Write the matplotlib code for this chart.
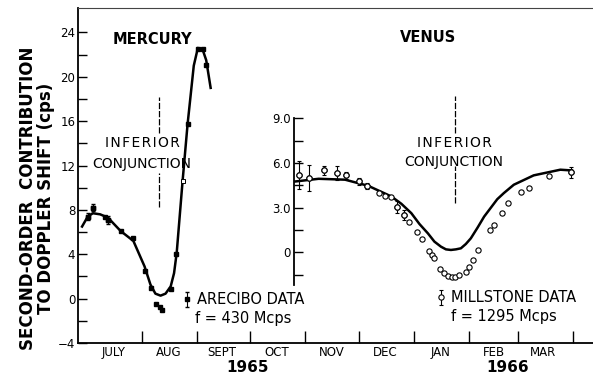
import matplotlib.pyplot as plt

# day numbers counted from 1 July 1965
month_starts = [31, 62, 92, 123, 153, 184, 215, 243, 274]
month_mids = [15, 46, 76, 107, 138, 168, 199, 229, 257]
month_names = ['JULY', 'AUG', 'SEPT', 'OCT', 'NOV', 'DEC', 'JAN', 'FEB', 'MAR']

# Mercury (Arecibo, 430 Mcps), cps
merc_day = [0.5, 3.4, 10.0, 11.9, 19.0, 25.9, 32.5, 36.3, 39.2, 41.1, 42.4,
            47.6, 50.4, 56.7, 62.5, 65.3, 67.2]
merc_val = [7.4, 8.2, 7.4, 7.1, 6.1, 5.5, 2.5, 1.0, -0.45, -0.75, -1.0,
            0.9, 4.0, 15.7, 22.5, 22.5, 21.1]
merc_open_day = [53.9]
merc_open_val = [10.6]
merc_err_day = [0.5, 3.4, 11.9]
merc_err_val = [7.4, 8.2, 7.1]
merc_err = [0.3, 0.3, 0.35]

merc_curve_day = [-2.7, 0.5, 3.4, 7.5, 11.9, 19.0, 26.2, 32.5, 35.8, 38.6,
                  41.5, 44.3, 47.2, 49.1, 50.6, 53.9, 56.7, 60.2, 62.5,
                  65.3, 67.2, 69.7]
merc_curve_val = [6.5, 7.4, 7.7, 7.6, 7.3, 6.1, 5.2, 2.9, 1.27, 0.45,
                  0.27, 0.45, 1.1, 2.3, 4.15, 10.6, 15.7, 21.0, 22.6,
                  22.4, 21.5, 19.0]

# Venus (Millstone, 1295 Mcps), cps
ven_day = [119.3, 124.9, 133.3, 140.7, 145.9, 153.4, 157.9, 164.6, 167.7,
           171.5, 174.6, 178.6, 181.4, 185.8, 188.8, 192.5, 194.4, 195.3,
           199.1, 201.3, 203.2, 205.6, 207.3, 209.7, 213.4, 215.3, 217.5,
           220.5, 227.0, 229.3, 233.9, 237.3, 244.7, 248.8, 260.0, 272.5]
ven_val = [5.2, 5.0, 5.5, 5.33, 5.17, 4.76, 4.47, 4.0, 3.8,
           3.7, 3.03, 2.5, 2.07, 1.35, 0.88, 0.11, -0.18, -0.4,
           -1.12, -1.4, -1.57, -1.64, -1.64, -1.53, -1.3, -0.97, -0.52,
           0.16, 1.5, 1.84, 2.63, 3.3, 4.02, 4.31, 5.15, 5.37]
ven_err_day = [119.3, 124.9, 133.3, 140.7, 145.9, 153.4, 157.9, 174.6, 178.6, 272.5]
ven_err_val = [5.2, 5.0, 5.5, 5.33, 5.17, 4.76, 4.47, 3.03, 2.5, 5.37]
ven_err = [0.95, 0.85, 0.3, 0.45, 0.25, 0.22, 0.22, 0.4, 0.35, 0.38]

ven_curve_day = [117.4, 130.5, 145.4, 158.4, 171.5, 177.1, 182.7, 187.3, 192.0,
                 195.7, 199.4, 202.2, 205.0, 207.8, 210.6, 213.4, 216.2, 220.0,
                 223.7, 231.1, 234.8, 240.4, 251.6, 266.6, 273.1]
ven_curve_val = [4.76, 4.94, 4.88, 4.47, 3.75, 3.26, 2.63, 1.9, 1.28,
                 0.72, 0.38, 0.2, 0.16, 0.2, 0.27, 0.56, 0.94, 1.66,
                 2.4, 3.57, 3.98, 4.54, 5.17, 5.55, 5.5]

merc_conj = 40.5
ven_conj = 207.3

plt.rcParams['font.family'] = 'DejaVu Sans'

fig = plt.figure(figsize=(5.93, 3.73), dpi=100)
ax = fig.add_axes([0.1315, 0.0804, 0.8685, 0.8981])
ax.set_xlim(-5, 285)
ax.set_ylim(-4, 26.2)

ax.spines['right'].set_visible(False)
ax.spines['top'].set_linewidth(0.8)
ax.spines['top'].set_color('#444444')
ax.spines['left'].set_linewidth(1.3)
ax.spines['bottom'].set_linewidth(1.3)

ax.set_yticks(range(-4, 25, 4))
ax.set_yticks(range(-2, 25, 4), minor=True)
ax.tick_params(axis='y', which='both', direction='in', length=6.5, width=1,
               labelsize=8.5, pad=2, right=False)
ax.set_xticks(month_starts, [''] * len(month_starts))
ax.set_xticks(month_mids, month_names, minor=True)
ax.tick_params(axis='x', which='major', direction='in', length=8.5, width=1, top=False)
ax.tick_params(axis='x', which='minor', length=0, labelsize=8.5, pad=2.5, top=False)

# Mercury
ax.plot(merc_curve_day, merc_curve_val, color='black', lw=1.8)
ax.plot(merc_day, merc_val, 's', color='black', ms=2.8)
ax.plot(merc_open_day, merc_open_val, 's', mfc='white', mec='black', ms=3, mew=0.7)
h1 = ax.errorbar(merc_err_day, merc_err_val, yerr=merc_err, fmt='s', color='black',
                 ms=2.8, elinewidth=0.8, capsize=1.5)
ax.vlines(merc_conj, 14.9, 18.2, color='black', lw=0.9, linestyles=(0, (5, 1.5)))
ax.vlines(merc_conj, 8.3, 11.3, color='black', lw=0.9, linestyles=(0, (5, 1.5)))

ax.legend([h1], ['ARECIBO DATA'], loc='center left', frameon=False,
          bbox_to_anchor=(181 / 593, 1 - 300 / 373), bbox_transform=fig.transFigure,
          borderpad=0, borderaxespad=0, handlelength=0.8, handletextpad=0.3,
          fontsize=10.5)

# Venus axis, same frame with its own scale
ax2 = fig.add_axes(ax.get_position(), sharex=ax)
ax2.patch.set_visible(False)
ax2.set_ylim(-6.09, 16.41)
for s in ['top', 'right', 'bottom']:
    ax2.spines[s].set_visible(False)
ax2.spines['left'].set_position(('data', 116.5))
ax2.spines['left'].set_bounds(-2.2, 9.0)
ax2.spines['left'].set_linewidth(1.3)
ax2.set_yticks([0, 3, 6, 9], ['0', '3.0', '6.0', '9.0'])
ax2.set_yticks([-1.5, 1.5, 4.5, 7.5], minor=True)
ax2.tick_params(axis='y', which='both', direction='in', length=6.5, width=1,
                labelsize=8.5, pad=2)
ax2.tick_params(axis='x', which='both', bottom=False, labelbottom=False)

ax2.plot(ven_curve_day, ven_curve_val, color='black', lw=1.8)
h2 = ax2.errorbar(ven_err_day, ven_err_val, yerr=ven_err, fmt='o', mfc='white',
                  mec='black', ecolor='black', ms=3.8, mew=0.8, elinewidth=0.8,
                  capsize=1.5)
ax2.plot(ven_day, ven_val, 'o', mfc='white', mec='black', ms=3.8, mew=0.8)
ax2.vlines(ven_conj, 8.0, 10.5, color='black', lw=0.9, linestyles=(0, (5, 1.5)))
ax2.vlines(ven_conj, 3.3, 5.78, color='black', lw=0.9, linestyles=(0, (5, 1.5)))

ax2.legend([h2], ['MILLSTONE DATA'], loc='center left', frameon=False,
           bbox_to_anchor=(435 / 593, 1 - 298 / 373), bbox_transform=fig.transFigure,
           borderpad=0, borderaxespad=0, handlelength=0.8, handletextpad=0.3,
           fontsize=10.5)

# text
def ftext(x, y, s, **kw):
    fig.text(x / 593, 1 - y / 373, s, **kw)

spaced = '\u200a'.join('INFERIOR')
ftext(152, 39, 'MERCURY', fontsize=10.5, fontweight='bold', ha='center', va='center')
ftext(428, 37, 'VENUS', fontsize=10.5, fontweight='bold', ha='center', va='center')
ftext(142, 143, spaced, fontsize=10, ha='center', va='center')
ftext(142, 164, 'CONJUNCTION', fontsize=10, ha='center', va='center')
ftext(454, 143, spaced, fontsize=10, ha='center', va='center')
ftext(454, 162, 'CONJUNCTION', fontsize=10, ha='center', va='center')
ftext(195, 318, 'f = 430 Mcps', fontsize=10.5, ha='left', va='center')
ftext(451, 317, 'f = 1295 Mcps', fontsize=10.5, ha='left', va='center')
ftext(248, 367, '1965', fontsize=11, fontweight='bold', ha='center', va='center')
ftext(508, 367, '1966', fontsize=11, fontweight='bold', ha='center', va='center')
ftext(28, 198, 'SECOND-ORDER  CONTRIBUTION', fontsize=12, fontweight='bold',
      rotation=90, ha='center', va='center')
ftext(46, 198, 'TO DOPPLER SHIFT (cps)', fontsize=12, fontweight='bold',
      rotation=90, ha='center', va='center')

fig.savefig('out.png', dpi=100)
